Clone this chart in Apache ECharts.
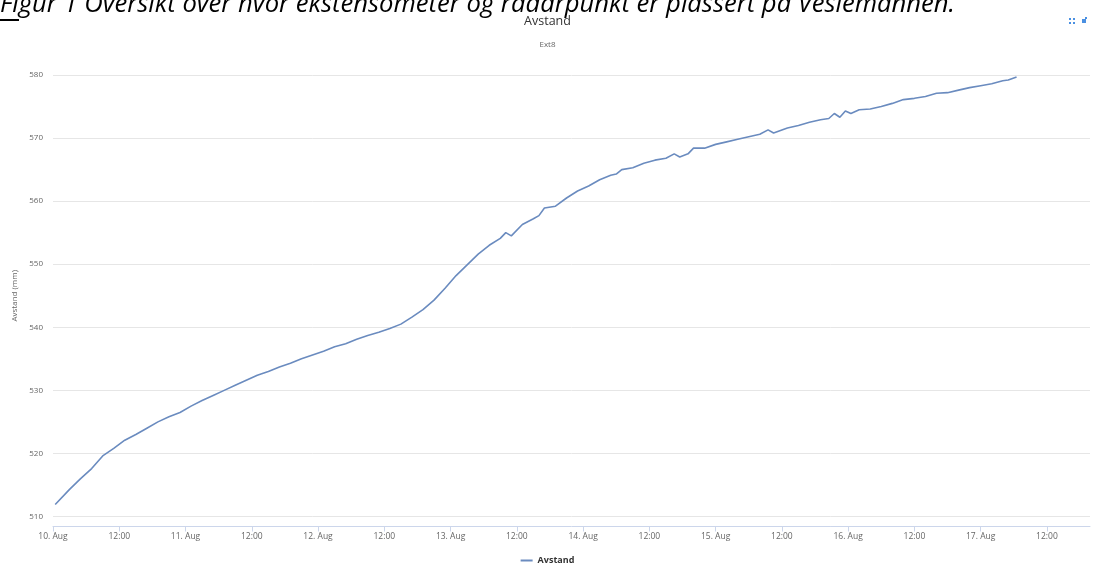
<!DOCTYPE html>
<html>
<head>
<meta charset="utf-8">
<script src="https://cdn.jsdelivr.net/npm/echarts@6/dist/echarts.min.js"></script>
<style>
html,body{margin:0;padding:0;background:#fff;}
#c{width:1095px;height:563px;}
</style>
</head>
<body>
<div id="c"></div>
<script>
// Hours since 10 Aug 00:00
const hours = [0.4,3,5,7,9,11,13,15,17,19,21,23,25,27,29,31,33,35,37,39,41,43,45,47,49,51,53,55,57,59,61,63,65,67,69,71,73,75,77,79,81,82,83,85,87,88,89,91,93,95,97,99,101,102,103,105,107,109,111,112.5,113.5,115,116,118,120,122,124,126,128,129.5,130.5,133,135,137,139,140.5,141.5,142.5,143.5,144.5,146,148,150,152,154,156,158,160,162,164,166,168,170,172,173,174.5];
const values = [511.9,514.3,516.0,517.6,519.6,520.8,522.1,523.0,524.0,525.0,525.8,526.5,527.5,528.4,529.2,530.0,530.8,531.6,532.4,533.0,533.7,534.3,535.0,535.6,536.2,536.9,537.4,538.1,538.7,539.2,539.8,540.5,541.6,542.8,544.3,546.2,548.2,549.9,551.6,553.0,554.1,555.0,554.5,556.3,557.2,557.7,558.9,559.2,560.5,561.6,562.4,563.4,564.1,564.3,565.0,565.3,566.0,566.5,566.8,567.5,567.0,567.5,568.4,568.4,569.0,569.4,569.8,570.2,570.6,571.3,570.8,571.6,572.0,572.5,572.9,573.1,573.9,573.3,574.3,573.9,574.5,574.6,575.0,575.5,576.1,576.3,576.6,577.1,577.2,577.6,578.0,578.3,578.6,579.1,579.2,579.7];
const seriesName = 'Avstand';
const titleText = 'Avstand';
const subtitleText = 'Ext8';
const yAxisName = 'Avstand (mm)';
const captionText = 'Figur 1 Oversikt over hvor ekstensometer og radarpunkt er plassert på Veslemannen.';

const HOUR = 3600000;
const base = Date.UTC(2018, 7, 10, 0, 0);
const data = hours.map((h, i) => [base + h * HOUR, values[i]]);

const chart = echarts.init(document.getElementById('c'), null, {renderer: 'canvas'});
chart.setOption({
  animation: false,
  title: [
    {text: titleText, left: 'center', top: 10, textStyle: {fontFamily: 'Open Sans', fontSize: 12.5, fontWeight: 'normal', color: '#333'}},
    {text: subtitleText, left: 'center', top: 36, textStyle: {fontFamily: 'Open Sans', fontSize: 8, fontWeight: 'normal', color: '#666'}}
  ],
  legend: {
    data: [seriesName], bottom: -7, left: 'center', itemWidth: 12, itemHeight: 2, icon: 'rect',
    textStyle: {fontFamily: 'Open Sans', fontSize: 9, fontWeight: 'bold', color: '#333'}
  },
  grid: {left: 53, right: 5, top: 75, bottom: 46.5},
  xAxis: {
    type: 'value',
    min: base,
    max: base + 187.8 * HOUR,
    interval: 12 * HOUR,
    offset: 10,
    splitLine: {show: false},
    axisLine: {show: true, lineStyle: {color: '#ccd6eb', width: 1}},
    axisTick: {show: true, length: 5, lineStyle: {color: '#ccd6eb'}},
    axisLabel: {
      showMaxLabel: false, margin: 6, color: '#666', fontFamily: 'Open Sans', fontSize: 8.5,
      formatter: function (v) {
        const d = new Date(v);
        if (d.getUTCMinutes() !== 0) return '';
        const h = d.getUTCHours();
        if (h === 0) return d.getUTCDate() + '. Aug';
        if (h === 12) return '12:00';
        return '';
      }
    }
  },
  yAxis: {
    type: 'value', min: 510, max: 580, interval: 10,
    name: yAxisName, nameLocation: 'middle', nameGap: 27,
    nameTextStyle: {color: '#666', fontFamily: 'Open Sans', fontSize: 8},
    axisLine: {show: false}, axisTick: {show: false},
    axisLabel: {color: '#666', fontFamily: 'Open Sans', fontSize: 8, margin: 10},
    splitLine: {lineStyle: {color: '#e6e6e6', width: 1}}
  },
  series: [{
    name: seriesName, type: 'line', data: data, showSymbol: false, smooth: false,
    lineStyle: {color: '#6a8bbf', width: 1.6}, itemStyle: {color: '#6a8bbf'}
  }],
  graphic: [
    {type: 'text', left: 0, top: -8, style: {text: captionText, font: 'italic 25.6px "Open Sans"', fill: '#000'}},
    {type: 'rect', shape: {x: 0, y: 19, width: 19, height: 2}, style: {fill: '#000'}},
    {type: 'rect', shape: {x: 1069, y: 18, width: 2, height: 2}, style: {fill: '#4a90e2'}},
    {type: 'rect', shape: {x: 1073, y: 18, width: 2, height: 2}, style: {fill: '#4a90e2'}},
    {type: 'rect', shape: {x: 1069, y: 22, width: 2, height: 2}, style: {fill: '#4a90e2'}},
    {type: 'rect', shape: {x: 1073, y: 22, width: 2, height: 2}, style: {fill: '#4a90e2'}},
    {type: 'rect', shape: {x: 1082, y: 19, width: 4, height: 4}, style: {fill: '#4a90e2'}},
    {type: 'rect', shape: {x: 1085, y: 17, width: 2, height: 2}, style: {fill: '#4a90e2'}}
  ]
});
</script>
</body>
</html>
